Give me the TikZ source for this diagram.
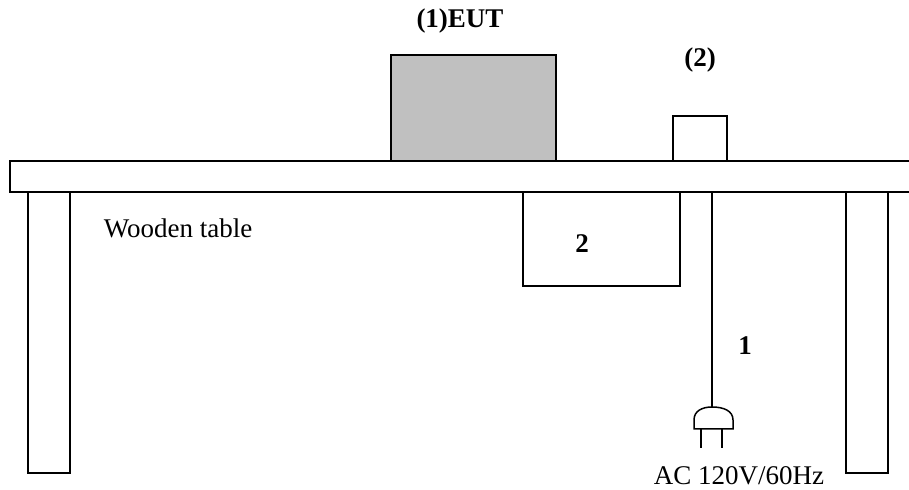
\documentclass[tikz,border=0pt]{standalone}
\usepackage{fontspec}
\setmainfont{Liberation Serif}
\definecolor{eutgray}{RGB}{192,192,192}
\begin{document}
\begin{tikzpicture}[x=0.5pt,y=-0.5pt,
  line width=0.75pt,
  box/.style={draw, inner sep=0pt},
  lbl/.style={font=\fontsize{13.5}{16}\selectfont\bfseries, inner sep=0pt},
  txt/.style={font=\fontsize{13.5}{16}\selectfont, inner sep=0pt}]
\useasboundingbox (0,0) rectangle (909,490);
% table top (open to the right)
\draw (909,161) -- (10,161) -- (10,192) -- (909,192);
% legs
\node[box, minimum width=21pt, minimum height=140.5pt] (legL) at (49,332.5) {};
\node[box, minimum width=21pt, minimum height=140.5pt] (legR) at (867,332.5) {};
% EUT
\node[box, fill=eutgray, minimum width=82.5pt, minimum height=53pt] (eut) at (473.5,108) {};
\node[lbl] (eutlbl) at (460,21) {(1)EUT};
% auxiliary device (2)
\node[box, minimum width=27pt, minimum height=22.5pt] (aux) at (700,138.5) {};
\node[lbl] (auxlbl) at (700,60) {(2)};
% box 2 under table
\node[box, minimum width=78.5pt, minimum height=47pt] (box2) at (601.5,239) {};
\node[lbl] (box2lbl) at (582,244) {2};
% cable 1 with plug
\coordinate (cabletop) at (712,192);
\draw (694,429) -- (694,420) .. controls (694,411) and (702,407) .. (712,407)
      .. controls (724,407) and (733,411) .. (733,420) -- (733,429) -- cycle;
\coordinate (plugtop) at (712,407);
\draw (cabletop) -- (plugtop);
\draw (701,429) -- (701,448);
\draw (722,429) -- (722,448);
\node[lbl] (cablelbl) at (745,346) {1};
% texts
\node[txt, anchor=west] (wood) at (103,228) {Wooden table};
\node[txt] (ac) at (739,476) {AC 120V/60Hz};
\end{tikzpicture}
\end{document}
